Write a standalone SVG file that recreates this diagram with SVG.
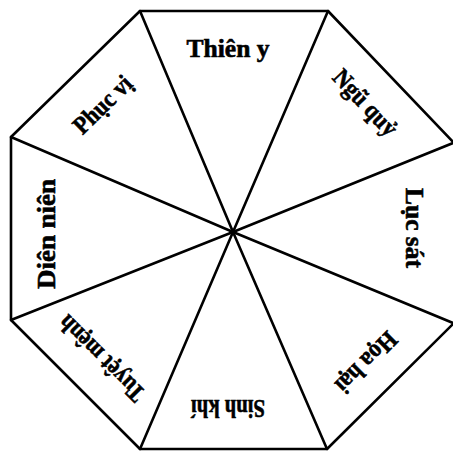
<svg xmlns="http://www.w3.org/2000/svg" width="453" height="451" viewBox="0 0 453 451">
<style>
.ln{stroke:#000;stroke-width:2.6;fill:none;stroke-linecap:round;stroke-linejoin:round}
.lb{font-family:"Liberation Serif","Times New Roman",serif;font-weight:bold;font-size:25px;fill:#000;stroke:#000;stroke-width:0.6;text-anchor:middle}
</style>
<rect width="453" height="451" fill="#fff"/>
<g id="connectors">
<polyline class="ln" points="454,323 327,449 140,449 11,320 11,137 140,11 328,11 454,143"/>
<line class="ln" x1="233" y1="232" x2="140" y2="11"/>
<line class="ln" x1="233" y1="232" x2="328" y2="11"/>
<line class="ln" x1="233" y1="232" x2="453" y2="143"/>
<line class="ln" x1="233" y1="232" x2="453" y2="323"/>
<line class="ln" x1="233" y1="232" x2="327" y2="449"/>
<line class="ln" x1="233" y1="232" x2="140" y2="449"/>
<line class="ln" x1="233" y1="232" x2="11" y2="320"/>
<line class="ln" x1="233" y1="232" x2="11" y2="137"/>
</g>
<g id="thien-y" transform="translate(228,48)"><text class="lb" y="9" textLength="83" lengthAdjust="spacingAndGlyphs">Thiên y</text></g>
<g id="ngu-quy" transform="translate(366,102) rotate(46.6)"><text class="lb" y="9" textLength="82" lengthAdjust="spacingAndGlyphs">Ngũ quỷ</text></g>
<g id="luc-sat" transform="translate(415,228) rotate(90)"><text class="lb" y="9" textLength="80" lengthAdjust="spacingAndGlyphs">Lục sát</text></g>
<g id="hoa-hai" transform="translate(367,363) rotate(135)"><text class="lb" y="9" textLength="76" lengthAdjust="spacingAndGlyphs">Họa hại</text></g>
<g id="sinh-khi" transform="translate(228,409) rotate(180)"><text class="lb" y="9" textLength="74" lengthAdjust="spacingAndGlyphs">Sinh khí</text></g>
<g id="tuyet-menh" transform="translate(101,359) rotate(225)"><text class="lb" y="9" textLength="111" lengthAdjust="spacingAndGlyphs">Tuyệt mệnh</text></g>
<g id="dien-nien" transform="translate(46,234) rotate(270)"><text class="lb" y="9" textLength="110" lengthAdjust="spacingAndGlyphs">Diên niên</text></g>
<g id="phuc-vi" transform="translate(102,104) rotate(-44.3)"><text class="lb" y="9" textLength="72" lengthAdjust="spacingAndGlyphs">Phục vị</text></g>
</svg>
